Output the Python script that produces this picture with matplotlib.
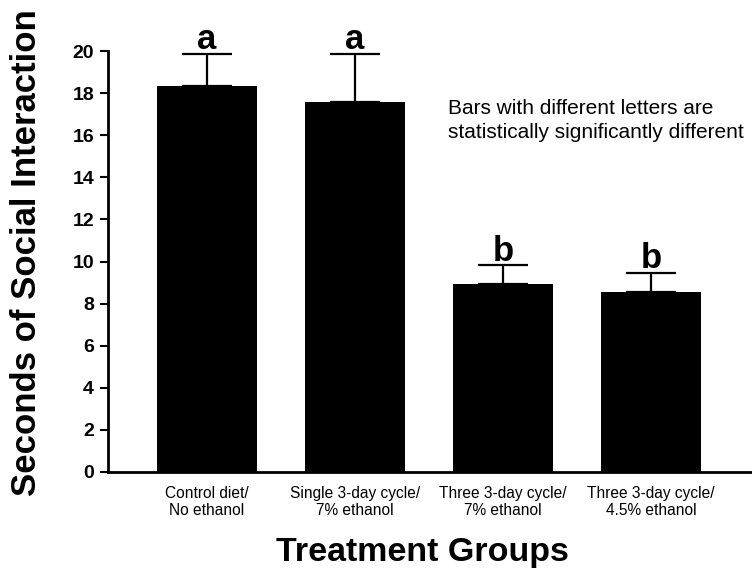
import matplotlib
matplotlib.use('Agg')
import matplotlib.pyplot as plt
import numpy as np

plt.rcParams['font.family'] = ['Liberation Sans', 'DejaVu Sans']

# values
groups = ['Control diet/\nNo ethanol', 'Single 3-day cycle/\n7% ethanol',
          'Three 3-day cycle/\n7% ethanol', 'Three 3-day cycle/\n4.5% ethanol']
means = [18.35, 17.6, 8.93, 8.57]
errors = [1.52, 2.25, 0.88, 0.88]
letters = ['a', 'a', 'b', 'b']
yticks = [0, 2, 4, 6, 8, 10, 12, 14, 16, 18, 20]

fig = plt.figure(figsize=(7.52, 5.69), dpi=100)
ax = fig.add_axes([108/752, (569-472)/569, 1 - 108/752, (472-51)/569])

x = np.arange(len(groups))
ax.bar(x, means, width=0.676, color='black')
ax.errorbar(x, means, yerr=[np.zeros(len(errors)), errors], fmt='none',
            ecolor='black', elinewidth=1.6, capsize=18, capthick=1.6)

# significance letters over the error bars
for xi, m, e, lt in zip(x, means, errors, letters):
    ax.text(xi, m + e - 0.1, lt, ha='center', va='bottom',
            fontsize=25, fontweight='bold', clip_on=False)

ax.text(1.625, 16.7, 'Bars with different letters are\nstatistically significantly different',
        ha='left', va='center', fontsize=15, linespacing=1.35, clip_on=False)

ax.set_xlim(-0.669, 3.682)
ax.set_ylim(0, 20)
ax.set_yticks(yticks)
ax.set_xticks(x)
ax.set_xticklabels(groups, fontsize=11.2, linespacing=1.15)
ax.tick_params(axis='x', length=0, pad=10)
ax.tick_params(axis='y', length=6, width=1.5, pad=4, labelsize=14)
for lab in ax.get_yticklabels():
    lab.set_fontweight('bold')

for s in ['top', 'right']:
    ax.spines[s].set_visible(False)
for s in ['left', 'bottom']:
    ax.spines[s].set_linewidth(2)

fig.text(27/752, (569-253)/569, 'Seconds of Social Interaction', rotation=90,
         ha='center', va='center', fontsize=25, fontweight='bold')
fig.text(422/752, (569-552)/569, 'Treatment Groups',
         ha='center', va='center', fontsize=24.5, fontweight='bold')

fig.savefig('out.png', dpi=100)
